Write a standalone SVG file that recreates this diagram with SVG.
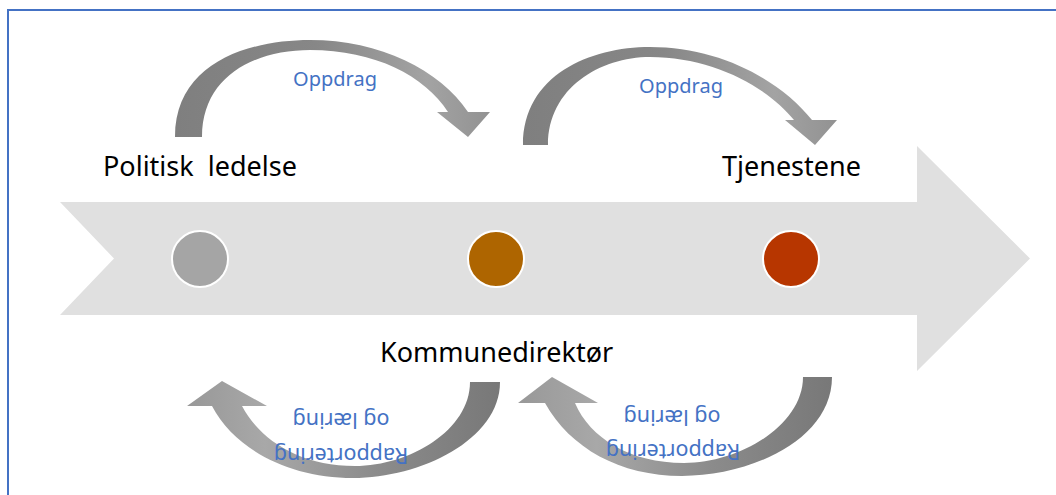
<svg xmlns="http://www.w3.org/2000/svg" width="1056" height="495" viewBox="0 0 1056 495">
  <defs>
    <linearGradient id="gradDown" x1="0" y1="0" x2="1" y2="0">
      <stop offset="0" stop-color="#7f7f7f"/>
      <stop offset="0.45" stop-color="#878787"/>
      <stop offset="0.8" stop-color="#a3a3a3"/>
      <stop offset="1" stop-color="#929292"/>
    </linearGradient>
    <linearGradient id="gradUp" x1="1" y1="0" x2="0" y2="0">
      <stop offset="0" stop-color="#787878"/>
      <stop offset="0.4" stop-color="#8c8c8c"/>
      <stop offset="0.75" stop-color="#a8a8a8"/>
      <stop offset="1" stop-color="#989898"/>
    </linearGradient>
    <style>
      .label { font-family: "Noto Sans", "Open Sans", "DejaVu Sans", sans-serif; font-size: 27px; fill: #000000; white-space: pre; }
      .flow { font-family: "Noto Sans", "Open Sans", "DejaVu Sans", sans-serif; font-size: 20px; fill: #4472C4; text-anchor: middle; }
      .flow-back { font-size: 21.5px; }
      .dot { stroke: #ffffff; stroke-width: 2; }
      .down { fill: url(#gradDown); }
      .up { fill: url(#gradUp); }
    </style>
  </defs>

  <rect width="1056" height="495" fill="#ffffff"/>
  <!-- frame -->
  <rect x="8" y="10" width="1100" height="600" fill="none" stroke="#4472C4" stroke-width="2"/>

  <!-- process band -->
  <g id="process-band">
    <polygon points="60,202 917,202 917,146 1030,258.5 917,371 917,315 60,315 114,258.5" fill="#e0e0e0"/>
  </g>

  <g id="node-politisk">
    <circle class="dot" cx="200" cy="259" r="28" fill="#a5a5a5"/>
    <text class="label" x="103" y="176" xml:space="preserve">Politisk  ledelse</text>
  </g>

  <g id="node-kommunedirektor">
    <circle class="dot" cx="496" cy="259" r="28" fill="#ae6500"/>
    <text class="label" x="380" y="362">Kommunedirektør</text>
  </g>

  <g id="node-tjenestene">
    <circle class="dot" cx="791" cy="259" r="28" fill="#b73600"/>
    <text class="label" x="722" y="176">Tjenestene</text>
  </g>

  <g id="connectors">
    <!-- Oppdrag: politisk ledelse -> kommunedirektør -->
    <path class="down" d="M175,137 C175,62 250,40 310,40 C380,40 440,70 468,112 L490,112 L468,137 L437,112 L448,112 C425,76 375,50 310,50 C255,50 202,76 202,137 Z"/>
    <text class="flow" x="335" y="86">Oppdrag</text>

    <!-- Oppdrag: kommunedirektør -> tjenestene -->
    <path class="down" d="M523,145 C523,75 590,47 650,47 C720,47 780,80 812,120 L837,120 L815,145 L785,120 L794,120 C766,86 712,57 650,57 C600,57 548,88 548,145 Z"/>
    <text class="flow" x="681" y="93">Oppdrag</text>

    <!-- Rapportering og læring: kommunedirektør -> politisk ledelse -->
    <path class="up" d="M500,382 C500,440 420,478 353,478 C290,478 235,450 212,406 L187,406 L222,381 L267,406 L242,406 C260,440 300,466 355,466 C410,466 470,430 470,382 Z"/>
    <text class="flow flow-back" transform="rotate(180 341 448)" x="341" y="448">Rapportering</text>
    <text class="flow flow-back" transform="rotate(180 341 413)" x="341" y="413">og læring</text>

    <!-- Rapportering og læring: tjenestene -> kommunedirektør -->
    <path class="up" d="M832,377 C832,440 750,476 682,476 C620,476 570,448 545,403 L518,403 L552,377 L598,403 L575,403 C590,438 630,463 684,463 C740,463 803,425 803,377 Z"/>
    <text class="flow flow-back" transform="rotate(180 673 444)" x="673" y="444">Rapportering</text>
    <text class="flow flow-back" transform="rotate(180 672 410)" x="672" y="410">og læring</text>
  </g>
</svg>
